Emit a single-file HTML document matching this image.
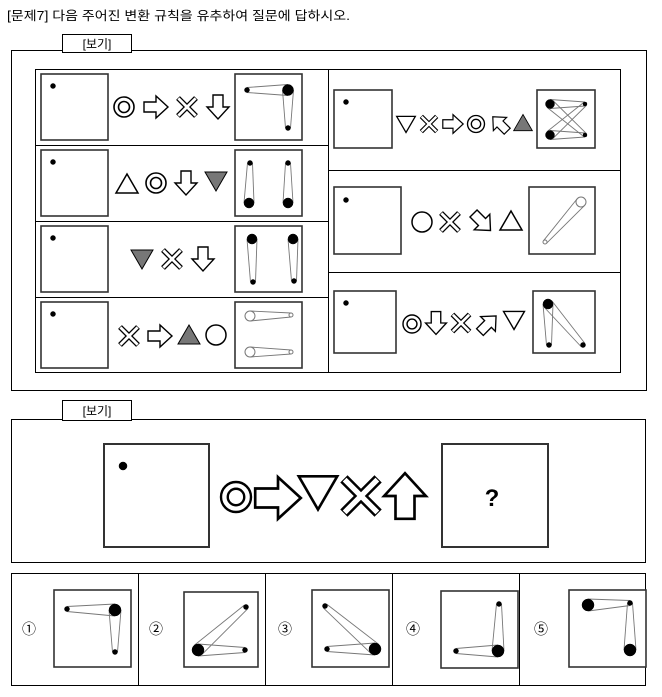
<!DOCTYPE html>
<html><head><meta charset="utf-8"><style>
html,body{margin:0;padding:0;background:#fff;}
svg{display:block;}
text{font-family:"Liberation Sans","Noto Sans CJK KR",sans-serif;}
</style></head><body>
<svg id="s" width="662" height="697" viewBox="0 0 662 697" xmlns="http://www.w3.org/2000/svg">
<defs>
<g id="dc"><circle r="10" fill="#fff" stroke="#000" stroke-width="1.6"/><circle r="5.5" fill="none" stroke="#000" stroke-width="1.6"/></g>
<g id="ar"><polygon points="-12,-5 0,-5 0,-11 12,0 0,11 0,5 -12,5" fill="#fff" stroke="#000" stroke-width="1.4" stroke-linejoin="miter"/></g>
<g id="x"><path d="M-9,-9 L9,9 M9,-9 L-9,9" stroke="#000" stroke-width="5.4"/><path d="M-8.6,-8.6 L8.6,8.6 M8.6,-8.6 L-8.6,8.6" stroke="#fff" stroke-width="2.8"/></g>
<g id="tu"><polygon points="0,-10 11,9 -11,9" fill="#fff" stroke="#000" stroke-width="1.5"/></g>
<g id="td"><polygon points="0,10 11,-9 -11,-9" fill="#fff" stroke="#000" stroke-width="1.5"/></g>
<g id="tuf"><polygon points="0,-10 11,9 -11,9" fill="#777" stroke="#000" stroke-width="1"/></g>
<g id="tdf"><polygon points="0,10 11,-9 -11,-9" fill="#777" stroke="#000" stroke-width="1"/></g>
<g id="ci"><circle r="10" fill="#fff" stroke="#000" stroke-width="1.5"/></g>
</defs>
<rect width="662" height="697" fill="#fff"/>
<text x="7" y="20" font-size="12.5" textLength="343" lengthAdjust="spacingAndGlyphs">[문제7] 다음 주어진 변환 규칙을 유추하여 질문에 답하시오.</text>
<g fill="none" stroke="#000" stroke-width="1">
<rect x="11.5" y="50.5" width="635" height="340"/>
<rect x="35.5" y="69.5" width="585" height="303"/>
<line x1="328.5" y1="69" x2="328.5" y2="373"/>
<line x1="35" y1="145.5" x2="328" y2="145.5"/><line x1="35" y1="221.5" x2="328" y2="221.5"/><line x1="35" y1="297.5" x2="328" y2="297.5"/>
<line x1="328" y1="170.5" x2="620" y2="170.5"/><line x1="328" y1="272.5" x2="620" y2="272.5"/>
<rect x="11.5" y="419.5" width="634" height="143"/>
<rect x="11.5" y="573.5" width="634" height="112"/>
<line x1="138.5" y1="573" x2="138.5" y2="686"/><line x1="265.5" y1="573" x2="265.5" y2="686"/><line x1="392.5" y1="573" x2="392.5" y2="686"/><line x1="519.5" y1="573" x2="519.5" y2="686"/>
</g>
<rect x="62.5" y="34.5" width="69" height="18" fill="#fff" stroke="#000"/>
<text x="97" y="48" font-size="12" text-anchor="middle">[보기]</text>
<rect x="62.5" y="400.5" width="69" height="20" fill="#fff" stroke="#000"/>
<text x="97" y="415" font-size="12" text-anchor="middle">[보기]</text>
<g id="dyn"></g>
<text x="492" y="506" font-size="24" font-weight="bold" text-anchor="middle">?</text>
<g font-size="14" text-anchor="middle">
<text x="29" y="634">①</text><text x="156" y="634">②</text><text x="285" y="634">③</text><text x="413" y="634">④</text><text x="541" y="634">⑤</text>
</g>
</svg>
<script>
var o='';
function box(x,y,w,h,sw){o+='<rect x="'+x+'" y="'+y+'" width="'+w+'" height="'+h+'" fill="#fff" stroke="#333" stroke-width="'+(sw||1.6)+'"/>';}
function sym(id,x,y,s,r){o+='<use href="#'+id+'" transform="translate('+x+','+y+') rotate('+(r||0)+') scale('+(s||1)+')"/>';}
function dot(x,y,r,open){o+='<circle cx="'+x+'" cy="'+y+'" r="'+r+'" fill="'+(open?'#fff':'#000')+'" stroke="'+(open?'#777':'#000')+'" stroke-width="'+(open?1:0.5)+'"/>';}
function link(a,b){var dx=b[0]-a[0],dy=b[1]-a[1],l=Math.hypot(dx,dy),nx=-dy/l,ny=dx/l;
 [1,-1].forEach(function(s){o+='<line x1="'+(a[0]+s*nx*a[2])+'" y1="'+(a[1]+s*ny*a[2])+'" x2="'+(b[0]+s*nx*b[2])+'" y2="'+(b[1]+s*ny*b[2])+'" stroke="#777" stroke-width="0.9"/>';});}
function fig(ds,ls,open){ls.forEach(function(p){link(ds[p[0]],ds[p[1]]);});ds.forEach(function(d){dot(d[0],d[1],d[2],d[3]);});}
[74,150,226,302].forEach(function(y){box(41,y,67,66);box(235,y,67,66);dot(53,y+12,2.5);});
sym('dc',124,107);sym('ar',156,107);sym('x',187,107);sym('ar',218,107,1,90);
sym('tu',127,184);sym('dc',156,183);sym('ar',186,183,1,90);sym('tdf',216,181);
sym('tdf',142,259);sym('x',172,259);sym('ar',203,259,1,90);
sym('x',129,336);sym('ar',160,336);sym('tuf',189,335);sym('ci',216,335);
fig([[247,90,2.5],[288,90,5.5],[288,128,2.5]],[[0,1],[1,2]]);
fig([[250,163,2.5],[249,203,5],[288,163,2.5],[288,203,5]],[[0,1],[2,3]]);
fig([[252,239,5],[253,282,2.5],[293,239,5],[294,281,2.5]],[[0,1],[2,3]]);
fig([[250,316,5,1],[291,315,2,1],[250,352,5,1],[291,352,2,1]],[[0,1],[2,3]]);
box(334,90,58,58);box(537,90,58,58);dot(346,102,2.5);
box(334,187,67,67);box(529,187,66,67);dot(346,200,2.5);
box(334,291,62,62);box(533,291,62,62);dot(346,303,2.5);
var s=0.85;
sym('td',406,124,s);sym('x',429,124,s);sym('ar',453,124,s);sym('dc',476,124,s);sym('ar',500,124,s,-135);sym('tuf',523,123,s);
sym('ci',422,222);sym('x',450,222,1);sym('ar',482,222,1,45);sym('tu',511,221);
sym('dc',412,324,0.9);sym('ar',436,323,0.95,90);sym('x',461,323,0.95);sym('ar',488,324,0.95,-45);sym('td',514,320,0.95);
fig([[550,104,4.5],[550,135,4.5],[585,104,2],[585,135,2]],[[0,2],[0,3],[1,2],[1,3]]);
fig([[581,202,5,1],[545,242,2,1]],[[0,1]]);
fig([[548,304,5],[549,345,2.5],[583,345,2.5]],[[0,1],[0,2]]);
box(104,444,105,103,2);box(442,444,106,103,2);dot(123,466,4);
sym('dc',236,497,1.5);sym('ar',278,498,1.9);sym('td',318,492,1.75);sym('x',361,496,1.9);sym('ar',405,496,1.9,-90);
box(54,590,77,77);box(184,592,74,75);box(312,590,77,77);box(441,591,77,77);box(569,590,77,77);
fig([[67,609,2.5],[115,610,6],[115,652,2.5]],[[0,1],[1,2]]);
fig([[198,650,6],[246,607,2.5],[245,650,2.5]],[[0,1],[0,2]]);
fig([[325,606,2.5],[327,649,2.5],[375,649,6]],[[0,2],[1,2]]);
fig([[499,604,2.5],[498,651,6],[456,651,2.5]],[[0,1],[1,2]]);
fig([[588,605,6],[630,603,2.5],[630,650,6]],[[0,1],[1,2]]);
document.getElementById('dyn').innerHTML=o;
</script>
</body></html>
